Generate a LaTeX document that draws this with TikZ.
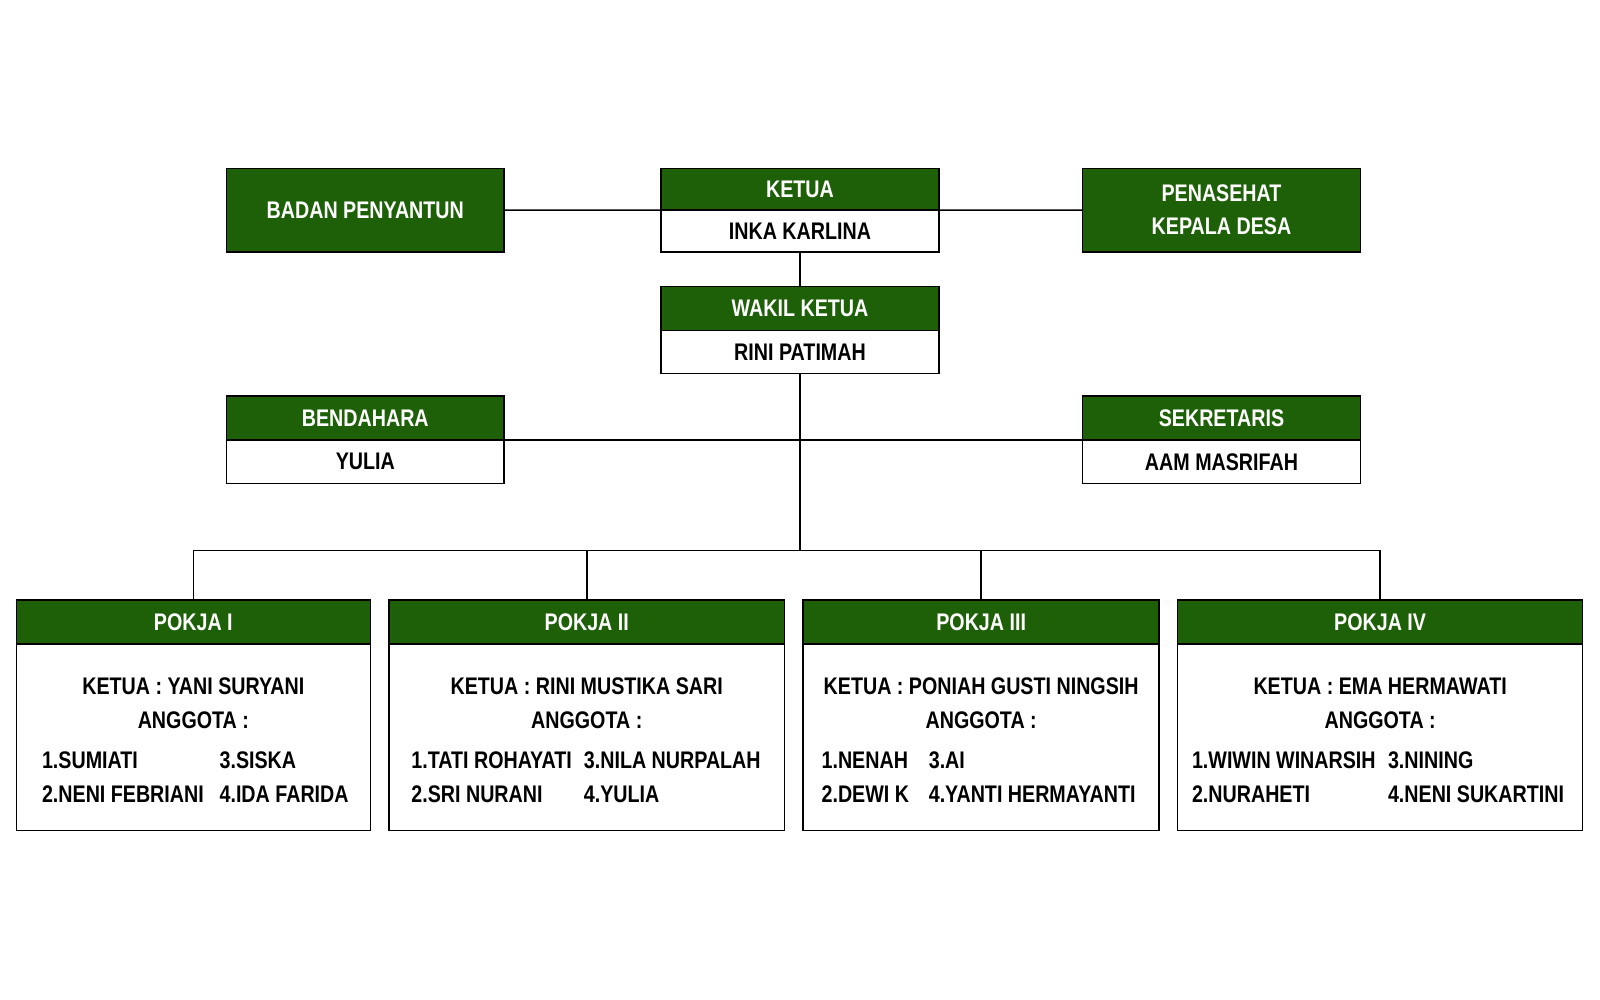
\documentclass[tikz,border=0pt]{standalone}
\usepackage{fontspec}
\setmainfont{Liberation Sans}[FakeStretch=0.82]
\definecolor{hgreen}{RGB}{30,96,8}
\begin{document}
\begin{tikzpicture}[x=1pt,y=-1pt,
  box/.style={draw=black, line width=1.5pt, inner sep=0pt, outer sep=0pt, anchor=north west, align=center, font=\fontsize{24}{33}\selectfont\bfseries},
  hdr/.style={box, fill=hgreen, text=white},
  bdy/.style={box, fill=white, text=black},
  txt/.style={inner sep=0pt, font=\fontsize{24}{28}\selectfont\bfseries},
  conn/.style={draw=black, line width=1.5pt}]
\useasboundingbox[fill=white] (0,0) rectangle (1600,1000);
% top row
\node[hdr, minimum width=277.6pt, minimum height=83.6pt] (badan) at (226.5,168.4) {BADAN PENYANTUN};
\node[hdr, minimum width=277.6pt, minimum height=41.8pt] (ketuaH) at (661.2,168.4) {KETUA};
\node[bdy, minimum width=277.6pt, minimum height=41.8pt] (ketuaB) at (661.2,210.2) {INKA KARLINA};
\node[hdr, minimum width=277.6pt, minimum height=83.6pt] (penasehat) at (1082.7,168.4) {PENASEHAT\\KEPALA DESA};
% wakil
\node[hdr, minimum width=277.6pt, minimum height=43.9pt] (wakilH) at (661.2,286.7) {WAKIL KETUA};
\node[bdy, minimum width=277.6pt, minimum height=42.9pt] (wakilB) at (661.2,330.6) {RINI PATIMAH};
% bendahara / sekretaris
\node[hdr, minimum width=277.6pt, minimum height=43.9pt] (bendH) at (226.5,395.9) {BENDAHARA};
\node[bdy, minimum width=277.6pt, minimum height=43.9pt] (bendB) at (226.5,439.8) {YULIA};
\node[hdr, minimum width=277.6pt, minimum height=43.9pt] (sekH) at (1082.7,395.9) {SEKRETARIS};
\node[bdy, minimum width=277.6pt, minimum height=43.9pt] (sekB) at (1082.7,439.8) {AAM MASRIFAH};
% pokja
\node[hdr, minimum width=354.1pt, minimum height=43.9pt] (p1H) at (16.3,600) {POKJA I};
\node[bdy, minimum width=354.1pt, minimum height=186.7pt] (p1B) at (16.3,643.9) {};
\node[hdr, minimum width=395.9pt, minimum height=43.9pt] (p2H) at (388.8,600) {POKJA II};
\node[bdy, minimum width=395.9pt, minimum height=186.7pt] (p2B) at (388.8,643.9) {};
\node[hdr, minimum width=356.1pt, minimum height=43.9pt] (p3H) at (803.1,600) {POKJA III};
\node[bdy, minimum width=356.1pt, minimum height=186.7pt] (p3B) at (803.1,643.9) {};
\node[hdr, minimum width=405.1pt, minimum height=43.9pt] (p4H) at (1177.6,600) {POKJA IV};
\node[bdy, minimum width=405.1pt, minimum height=186.7pt] (p4B) at (1177.6,643.9) {};
% pokja texts
\node[txt] (p1k) at (p1B.center |- 0,686.7) {KETUA : YANI SURYANI};
\node[txt] (p1a) at (p1B.center |- 0,720.4) {ANGGOTA :};
\node[txt, anchor=west] (p1m1) at (41.8,760.2) {1.SUMIATI};
\node[txt, anchor=west] (p1m3) at (219.4,760.2) {3.SISKA};
\node[txt, anchor=west] (p1m2) at (41.8,793.9) {2.NENI FEBRIANI};
\node[txt, anchor=west] (p1m4) at (219.4,793.9) {4.IDA FARIDA};
\node[txt] (p2k) at (p2B.center |- 0,686.7) {KETUA : RINI MUSTIKA SARI};
\node[txt] (p2a) at (p2B.center |- 0,720.4) {ANGGOTA :};
\node[txt, anchor=west] (p2m1) at (411.2,760.2) {1.TATI ROHAYATI};
\node[txt, anchor=west] (p2m3) at (583.7,760.2) {3.NILA NURPALAH};
\node[txt, anchor=west] (p2m2) at (411.2,793.9) {2.SRI NURANI};
\node[txt, anchor=west] (p2m4) at (583.7,793.9) {4.YULIA};
\node[txt] (p3k) at (p3B.center |- 0,686.7) {KETUA : PONIAH GUSTI NINGSIH};
\node[txt] (p3a) at (p3B.center |- 0,720.4) {ANGGOTA :};
\node[txt, anchor=west] (p3m1) at (821.4,760.2) {1.NENAH};
\node[txt, anchor=west] (p3m3) at (928.6,760.2) {3.AI};
\node[txt, anchor=west] (p3m2) at (821.4,793.9) {2.DEWI K};
\node[txt, anchor=west] (p3m4) at (928.6,793.9) {4.YANTI HERMAYANTI};
\node[txt] (p4k) at (p4B.center |- 0,686.7) {KETUA : EMA HERMAWATI};
\node[txt] (p4a) at (p4B.center |- 0,720.4) {ANGGOTA :};
\node[txt, anchor=west] (p4m1) at (1191.8,760.2) {1.WIWIN WINARSIH};
\node[txt, anchor=west] (p4m3) at (1387.8,760.2) {3.NINING};
\node[txt, anchor=west] (p4m2) at (1191.8,793.9) {2.NURAHETI};
\node[txt, anchor=west] (p4m4) at (1387.8,793.9) {4.NENI SUKARTINI};
% connectors
\coordinate (bus) at (800,550.5);
\draw[conn] (badan.east) -- (ketuaH.south west);
\draw[conn] (penasehat.west) -- (ketuaH.south east);
\draw[conn] (ketuaB.south) -- (wakilH.north);
\draw[conn] (wakilB.south) -- (bus);
\draw[conn] (bendH.south east) -- (sekH.south west);
\draw[conn] (p1H.north) |- (bus) -| (p4H.north);
\draw[conn] (p2H.north) -- (p2H.north |- bus);
\draw[conn] (p3H.north) -- (p3H.north |- bus);
\end{tikzpicture}
\end{document}
